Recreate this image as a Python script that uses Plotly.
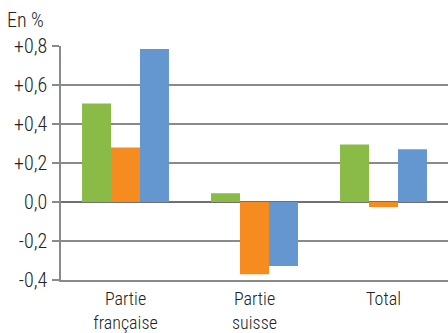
import plotly.graph_objects as go

categories = ["Partie<br>française", "Partie<br>suisse", "Total"]
series_green = [0.505, 0.045, 0.295]
series_orange = [0.28, -0.37, -0.026]
series_blue = [0.785, -0.328, 0.27]
tick_vals = [-0.4, -0.2, 0.0, 0.2, 0.4, 0.6, 0.8]
tick_text = ["-0,4", "-0,2", "0,0", "+0,2", "+0,4", "+0,6", "+0,8"]

FONT = "Roboto Condensed, Roboto, sans-serif"
fig = go.Figure()
for name, vals, col in [("a", series_green, "#8BBB47"),
                        ("b", series_orange, "#F68B1F"),
                        ("c", series_blue, "#6497CF")]:
    fig.add_trace(go.Bar(x=categories, y=vals, name=name, marker_color=col,
                         marker_line_width=0))

fig.update_layout(
    width=448, height=333,
    margin=dict(l=61, r=0, t=46, b=53, autoexpand=False),
    barmode="group", bargap=0.326, bargroupgap=0,
    showlegend=False,
    plot_bgcolor="white", paper_bgcolor="white",
    font=dict(family=FONT, size=20, color="#222222", weight=300),
    xaxis=dict(showgrid=False, showline=True, linecolor="#8a8a8a", linewidth=1.5,
               ticks="", tickfont=dict(size=18, weight=300), ticklabelstandoff=2,
               automargin=False),
    yaxis=dict(range=[-0.4, 0.8], tickvals=tick_vals, ticktext=tick_text,
               showgrid=True, gridcolor="#8a8a8a", gridwidth=1.5,
               zeroline=True, zerolinecolor="#707070", zerolinewidth=2,
               showline=True, linecolor="#8a8a8a", linewidth=1.5,
               ticks="outside", ticklen=7, tickcolor="#8a8a8a", tickwidth=1.5,
               tickfont=dict(size=20, weight=300), ticklabelstandoff=1,
               automargin=False),
    annotations=[dict(text="En %", xref="x domain", yref="y domain",
                      x=-56/387, y=1 + 26/234, xanchor="left", yanchor="middle",
                      showarrow=False, font=dict(size=20, weight=300))],
)
fig.write_html("out.html")
